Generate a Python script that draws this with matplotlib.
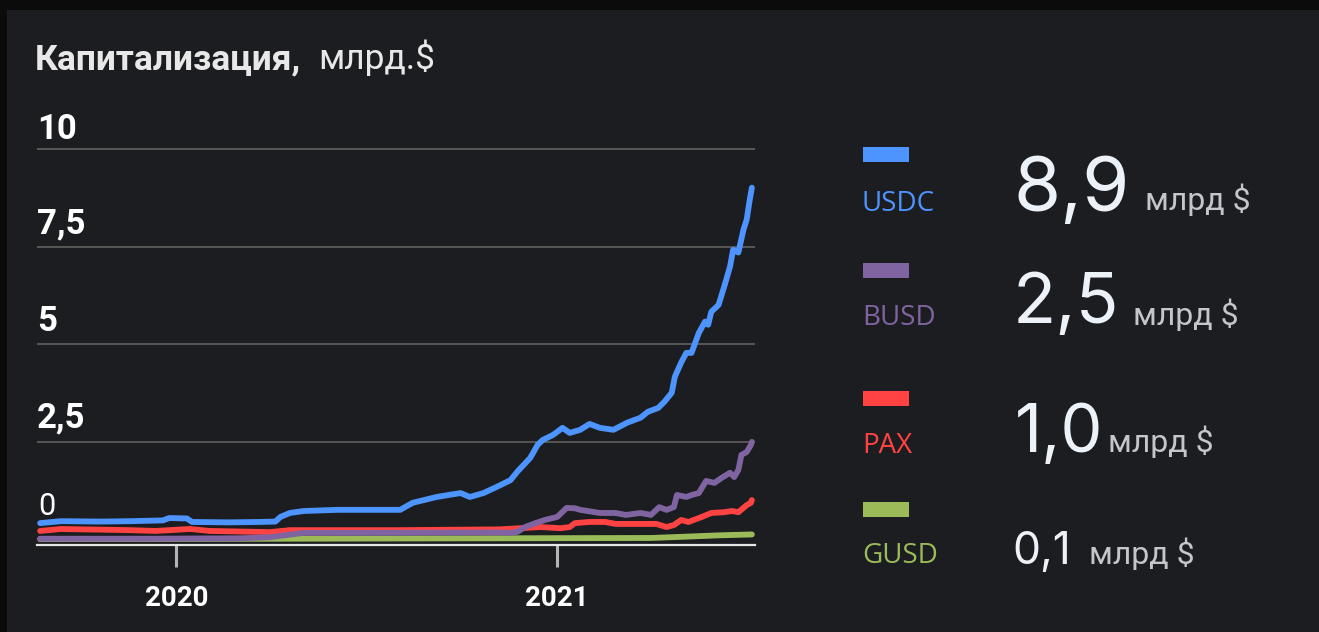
import matplotlib
matplotlib.use('Agg')
import matplotlib.pyplot as plt
import matplotlib.transforms as mtransforms
from matplotlib.patches import Rectangle
import pandas as pd

plt.rcParams['font.family'] = ['Roboto', 'DejaVu Sans']

# ---- data ----
usdc_dates = ['2019-08-23', '2019-09-12', '2019-10-20', '2019-11-18', '2019-12-19', '2019-12-25',
              '2020-01-11', '2020-01-16', '2020-02-20', '2020-03-21', '2020-04-05', '2020-04-10',
              '2020-04-19', '2020-05-02', '2020-06-03', '2020-06-23', '2020-08-03', '2020-08-15',
              '2020-09-07', '2020-09-30', '2020-10-09', '2020-10-22', '2020-11-04', '2020-11-17',
              '2020-11-24', '2020-12-06', '2020-12-13', '2020-12-18', '2020-12-28', '2021-01-06',
              '2021-01-13', '2021-01-23', '2021-02-01', '2021-02-11', '2021-02-24', '2021-03-09',
              '2021-03-22', '2021-03-29', '2021-04-08', '2021-04-14', '2021-04-21', '2021-04-24',
              '2021-04-30', '2021-05-05', '2021-05-10', '2021-05-17', '2021-05-23', '2021-05-26',
              '2021-05-29', '2021-06-05', '2021-06-11', '2021-06-16', '2021-06-19', '2021-06-24',
              '2021-06-29', '2021-07-02', '2021-07-05', '2021-07-07']
usdc_vals = [0.42, 0.47, 0.46, 0.47, 0.49, 0.55,
             0.54, 0.45, 0.44, 0.45, 0.46, 0.58,
             0.68, 0.73, 0.76, 0.76, 0.76, 0.94,
             1.09, 1.19, 1.09, 1.19, 1.35, 1.52,
             1.75, 2.09, 2.42, 2.55, 2.68, 2.86,
             2.73, 2.81, 2.96, 2.86, 2.81, 2.99,
             3.12, 3.27, 3.37, 3.53, 3.76, 4.17,
             4.53, 4.78, 4.78, 5.29, 5.58, 5.50,
             5.83, 6.01, 6.53, 6.99, 7.42, 7.35,
             7.94, 8.19, 8.71, 9.01]

busd_dates = ['2019-08-23', '2019-12-01', '2020-03-01', '2020-03-31', '2020-05-02', '2020-06-03',
              '2020-11-07', '2020-11-17', '2020-11-24', '2020-12-01', '2020-12-11', '2020-12-20',
              '2021-01-01', '2021-01-10', '2021-01-18', '2021-01-23', '2021-02-11', '2021-02-26',
              '2021-03-08', '2021-03-22', '2021-04-01', '2021-04-09', '2021-04-16', '2021-04-23',
              '2021-04-26', '2021-05-05', '2021-05-10', '2021-05-17', '2021-05-24', '2021-06-01',
              '2021-06-08', '2021-06-16', '2021-06-20', '2021-06-24', '2021-06-27', '2021-07-02',
              '2021-07-06', '2021-07-07']
busd_vals = [0.02, 0.02, 0.03, 0.06, 0.17, 0.17,
             0.18, 0.17, 0.20, 0.32, 0.42, 0.50,
             0.58, 0.81, 0.80, 0.76, 0.68, 0.68,
             0.63, 0.68, 0.63, 0.83, 0.76, 0.83,
             1.14, 1.09, 1.14, 1.19, 1.50, 1.45,
             1.58, 1.71, 1.60, 1.78, 2.17, 2.24,
             2.42, 2.50]

pax_dates = ['2019-08-23', '2019-09-12', '2019-11-18', '2019-12-12', '2020-01-14', '2020-02-02',
             '2020-03-31', '2020-04-19', '2020-08-03', '2020-11-07', '2020-11-26', '2020-12-16',
             '2021-01-04', '2021-01-13', '2021-01-18', '2021-02-01', '2021-02-16', '2021-02-26',
             '2021-03-22', '2021-04-06', '2021-04-16', '2021-04-23', '2021-04-30', '2021-05-07',
             '2021-05-20', '2021-05-29', '2021-06-10', '2021-06-18', '2021-06-24', '2021-07-02',
             '2021-07-06', '2021-07-07']
pax_vals = [0.22, 0.27, 0.24, 0.22, 0.27, 0.22,
            0.19, 0.24, 0.24, 0.26, 0.29, 0.32,
            0.29, 0.32, 0.42, 0.45, 0.45, 0.40,
            0.40, 0.40, 0.32, 0.37, 0.50, 0.45,
            0.58, 0.68, 0.70, 0.73, 0.70, 0.88,
            0.94, 1.01]

gusd_dates = ['2019-08-23', '2020-04-01', '2021-04-01', '2021-05-01', '2021-06-08', '2021-07-07']
gusd_vals = [0.01, 0.02, 0.04, 0.07, 0.11, 0.13]

names = ['USDC', 'BUSD', 'PAX', 'GUSD']
latest = ['8,9', '2,5', '1,0', '0,1']
colors = ['#4d94ff', '#8064a2', '#ff4343', '#9bbb59']

ytick_vals = [0, 2.5, 5, 7.5, 10]
ytick_labels = ['0', '2,5', '5', '7,5', '10']
year_ticks = ['2020-01-01', '2021-01-01']
year_labels = ['2020', '2021']

W, H = 1319, 632
BG = '#1c1d21'

fig = plt.figure(figsize=(W / 100, H / 100), dpi=100, facecolor='#0b0b0c')
# panel behind everything
fig.patches.append(Rectangle((7 / W, 0), 1 - 7 / W, 1 - 10 / H, transform=fig.transFigure,
                             facecolor=BG, edgecolor='none', zorder=-5))


def fx(px):
    return px / W


def fy(py):
    return 1 - py / H


ax = fig.add_axes([fx(37), fy(545), fx(755) - fx(37), fy(137.3) - fy(545)])
ax.set_facecolor('none')
ax.set_ylim(-0.14, 10.3)
ax.set_xlim(pd.Timestamp('2019-08-20'), pd.Timestamp('2021-07-10'))

for v in ytick_vals[1:]:
    ax.axhline(v, color='#5c5c5c', lw=1.3, zorder=1)

series = [(gusd_dates, gusd_vals, colors[3], 2),
          (pax_dates, pax_vals, colors[2], 3),
          (busd_dates, busd_vals, colors[1], 4),
          (usdc_dates, usdc_vals, colors[0], 5)]
for d, v, c, z in series:
    ax.plot(pd.to_datetime(d), v, color=c, lw=4.2, zorder=z,
            solid_joinstyle='round', solid_capstyle='round')

for s in ['top', 'right', 'left']:
    ax.spines[s].set_visible(False)
ax.spines['bottom'].set_color('#e6e6e6')
ax.spines['bottom'].set_linewidth(1.6)
ax.spines['bottom'].set_zorder(6)

ax.set_yticks([])
ax.set_xticks(pd.to_datetime(year_ticks))
ax.set_xticklabels(year_labels, fontsize=20, fontweight='bold', color='white')
ax.tick_params(axis='x', direction='out', length=16, width=2.2, color='#b5b5b5', pad=13)

trans = mtransforms.blended_transform_factory(ax.transAxes, ax.transData)
label_offset = [0.63, 0.36, 0.33, 0.33, 0.25]
for v, lab, off in zip(ytick_vals, ytick_labels, label_offset):
    if v == 0:
        ax.text(0.002, off, lab, transform=trans, fontsize=22, color='white',
                ha='left', va='baseline')
    else:
        ax.text(0.0, v + off, lab, transform=trans, fontsize=25, fontweight='bold',
                color='white', ha='left', va='baseline')

# title
fig.text(fx(35), fy(69), 'Капитализация,', fontsize=25.5, fontweight='bold',
         color='#e8e8e8', ha='left', va='baseline')
fig.text(fx(318), fy(69), 'млрд.$', fontsize=25.5, color='#e8e8e8', ha='left', va='baseline')

# right-hand legend
sw_top = [147, 263, 391, 502]
name_base = [211, 325, 453, 563]
num_base = [211, 323, 452, 564]
num_x = [1013, 1013, 1015, 1012]
num_size = [55, 51, 48, 32]
unit_x = [1145, 1133, 1108, 1089]
unit_base = [210, 325, 452, 564]
for i in range(4):
    fig.patches.append(Rectangle((fx(863), fy(sw_top[i] + 15)), fx(909) - fx(863), 15 / H,
                                 transform=fig.transFigure, facecolor=colors[i],
                                 edgecolor='none'))
    fig.text(fx(862), fy(name_base[i]), names[i], fontsize=20, color=colors[i],
             family=['Open Sans', 'DejaVu Sans'], ha='left', va='baseline')
    fig.text(fx(num_x[i]), fy(num_base[i]), latest[i], fontsize=num_size[i],
             color='#edf2f9', family=['Inter', 'Roboto', 'DejaVu Sans'],
             ha='left', va='baseline')
    fig.text(fx(unit_x[i]), fy(unit_base[i]), 'млрд $', fontsize=23, color='#c4c6ca',
             ha='left', va='baseline')

fig.savefig('out.png', dpi=100, facecolor=fig.get_facecolor())
